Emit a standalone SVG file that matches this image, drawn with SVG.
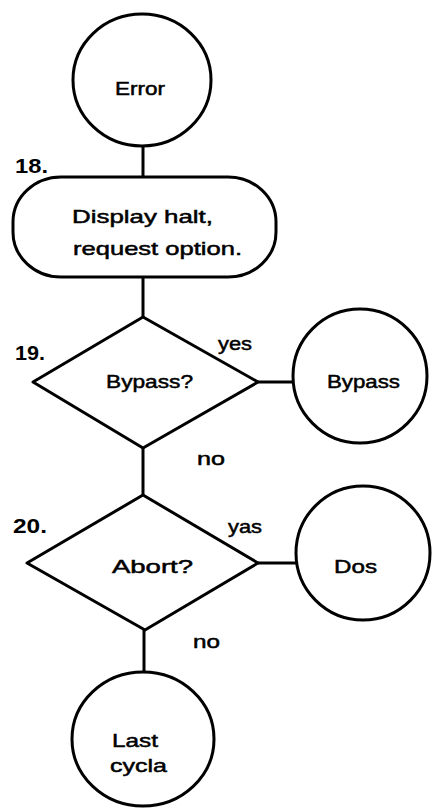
<svg xmlns="http://www.w3.org/2000/svg" width="433" height="808" viewBox="0 0 433 808">
<style>
.s{fill:none;stroke:#000;stroke-width:3;stroke-linejoin:round}
.t{font-family:"Liberation Sans",Arial,sans-serif;font-size:19px;fill:#000;stroke:#000;stroke-width:0.5}
.n{font-family:"Liberation Sans",Arial,sans-serif;font-size:21px;font-weight:bold;fill:#000}
</style>
<rect x="0" y="0" width="433" height="808" fill="#fff"/>
<g id="connectors" class="s">
<line x1="143" y1="146" x2="143" y2="177"/>
<line x1="143" y1="277" x2="143" y2="317"/>
<line x1="258" y1="382" x2="293" y2="382"/>
<line x1="143" y1="448" x2="143" y2="495"/>
<line x1="258" y1="563" x2="296" y2="563"/>
<line x1="144" y1="630" x2="144" y2="672"/>
</g>
<g id="error">
<ellipse class="s" cx="142" cy="80" rx="69" ry="66"/>
<text class="t" x="115" y="95" textLength="50" lengthAdjust="spacingAndGlyphs">Error</text>
</g>
<g id="step18">
<text class="n" x="15" y="173" textLength="33" lengthAdjust="spacingAndGlyphs">18.</text>
<rect class="s" x="13" y="177" width="263" height="100" rx="48" ry="45"/>
<text class="t" x="72" y="223" textLength="141" lengthAdjust="spacingAndGlyphs">Display halt,</text>
<text class="t" x="73" y="255" textLength="169" lengthAdjust="spacingAndGlyphs">request option.</text>
</g>
<g id="step19">
<text class="n" x="15" y="360" textLength="30" lengthAdjust="spacingAndGlyphs">19.</text>
<polygon class="s" points="143,317 258,382 143,448 33,382"/>
<text class="t" x="106" y="388" textLength="87" lengthAdjust="spacingAndGlyphs">Bypass?</text>
<text class="t" x="218" y="350" textLength="34" lengthAdjust="spacingAndGlyphs">yes</text>
<text class="t" x="197" y="465" textLength="28" lengthAdjust="spacingAndGlyphs">no</text>
</g>
<g id="bypass">
<circle class="s" cx="360" cy="376" r="67"/>
<text class="t" x="327" y="388" textLength="73" lengthAdjust="spacingAndGlyphs">Bypass</text>
</g>
<g id="step20">
<text class="n" x="13" y="533" textLength="34" lengthAdjust="spacingAndGlyphs">20.</text>
<polygon class="s" points="143,495 258,563 145,630 27,563"/>
<text class="t" x="112" y="573" textLength="81" lengthAdjust="spacingAndGlyphs">Abort?</text>
<text class="t" x="228" y="533" textLength="34" lengthAdjust="spacingAndGlyphs">yas</text>
<text class="t" x="193" y="648" textLength="27" lengthAdjust="spacingAndGlyphs">no</text>
</g>
<g id="dos">
<circle class="s" cx="363" cy="553" r="67"/>
<text class="t" x="334" y="573" textLength="43" lengthAdjust="spacingAndGlyphs">Dos</text>
</g>
<g id="lastcycle">
<ellipse class="s" cx="143" cy="739" rx="71" ry="67"/>
<text class="t" x="112" y="747" textLength="46" lengthAdjust="spacingAndGlyphs">Last</text>
<text class="t" x="110" y="772" textLength="57" lengthAdjust="spacingAndGlyphs">cycla</text>
</g>
</svg>
